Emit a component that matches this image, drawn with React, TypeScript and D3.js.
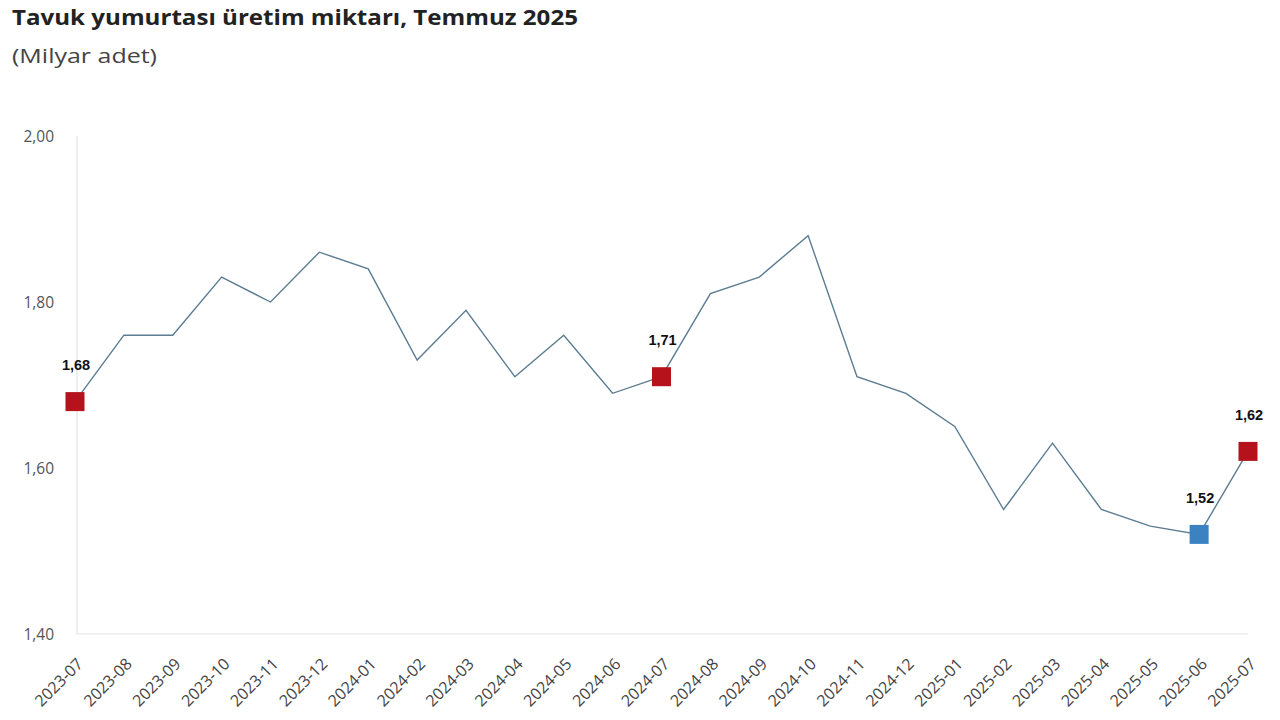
import React from "react";
import * as d3 from "d3";

const months = [
  "2023-07","2023-08","2023-09","2023-10","2023-11","2023-12",
  "2024-01","2024-02","2024-03","2024-04","2024-05","2024-06",
  "2024-07","2024-08","2024-09","2024-10","2024-11","2024-12",
  "2025-01","2025-02","2025-03","2025-04","2025-05","2025-06","2025-07",
];
const values = [
  1.68, 1.76, 1.76, 1.83, 1.80, 1.86,
  1.84, 1.73, 1.79, 1.71, 1.76, 1.69,
  1.71, 1.81, 1.83, 1.88, 1.71, 1.69,
  1.65, 1.55, 1.63, 1.55, 1.53, 1.52, 1.62,
];
const yTicks = [1.4, 1.6, 1.8, 2.0];
const highlightRed = ["2023-07", "2024-07", "2025-07"];
const highlightBlue = ["2025-06"];

const W = 1280, H = 720;
const SANS = "'Open Sans', 'Noto Sans', sans-serif";

export default function App() {
  const x = d3.scalePoint<string>().domain(months).range([75, 1248]);
  const y = d3.scaleLinear().domain([1.4, 2.0]).range([634, 136]);
  const fmt = (v: number) => d3.format(".2f")(v).replace(".", ",");
  const line = d3.line<number>()
    .x((_, i) => x(months[i]) as number)
    .y((d) => y(d));
  const marked = [...highlightRed, ...highlightBlue];
  return (
    <svg width={W} height={H} style={{ position: "absolute", left: 0, top: 0, background: "#fff" }}>
      <rect width={W} height={H} fill="#fff" />
      <text x={12} y={25} fontFamily={SANS} fontWeight={700} fontSize={21} fill="#222"
        textLength={566} lengthAdjust="spacingAndGlyphs">
        Tavuk yumurtası üretim miktarı, Temmuz 2025
      </text>
      <text x={12} y={63} fontFamily={SANS} fontSize={19.5} fill="#444"
        textLength={145} lengthAdjust="spacingAndGlyphs">
        (Milyar adet)
      </text>
      <line x1={77} x2={77} y1={136} y2={634} stroke="#e3e3e3" strokeWidth={1.2} />
      <line x1={77} x2={1248} y1={634} y2={634} stroke="#e3e3e3" strokeWidth={1.2} />
      {yTicks.map((t) => (
        <text key={t} x={54} y={y(t)} dy="0.36em" textAnchor="end"
          fontFamily={SANS} fontSize={15.5} fill="#555">
          {fmt(t)}
        </text>
      ))}
      {months.map((m) => (
        <text key={m}
          transform={`translate(${(x(m) as number) + 9},${665}) rotate(-45)`}
          textAnchor="end"
          fontFamily={SANS} fontSize={16} fill="#444">
          {m}
        </text>
      ))}
      <path d={line(values) || ""} fill="none" stroke="#5b7c92" strokeWidth={1.4} />
      {months.map((m, i) => {
        if (!marked.includes(m)) return null;
        const cx = x(m) as number, cy = y(values[i]);
        const fill = highlightBlue.includes(m) ? "#3a82c2" : "#b5121b";
        return (
          <g key={m}>
            <rect x={cx - 9.5} y={cy - 9.5} width={19} height={19} fill={fill} />
            <text x={cx + 1} y={cy - 37} dy="0.36em" textAnchor="middle"
              fontFamily="'Liberation Sans', Arial, sans-serif" fontWeight={700} fontSize={14.5} fill="#111">
              {fmt(values[i])}
            </text>
          </g>
        );
      })}
    </svg>
  );
}
